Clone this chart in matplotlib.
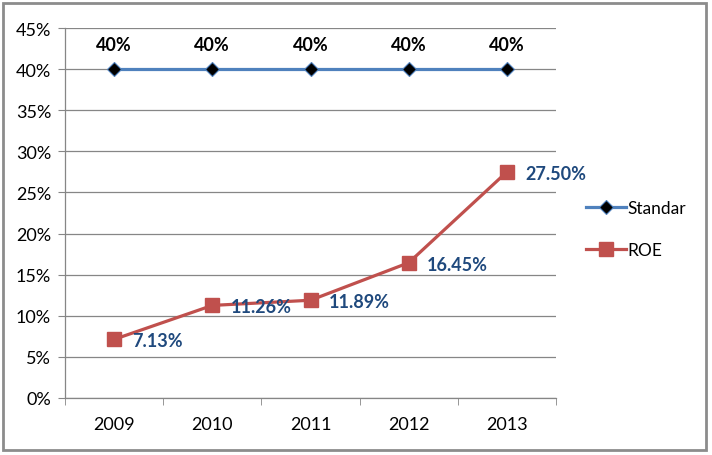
import matplotlib
matplotlib.use("Agg")
import matplotlib.pyplot as plt
from matplotlib.patches import Rectangle
from matplotlib.ticker import FuncFormatter, FixedLocator

years = ["2009", "2010", "2011", "2012", "2013"]
standar = [40, 40, 40, 40, 40]
roe = [7.13, 11.26, 11.89, 16.45, 27.50]
standar_labels = ["40%", "40%", "40%", "40%", "40%"]
roe_labels = ["7.13%", "11.26%", "11.89%", "16.45%", "27.50%"]

plt.rcParams['font.family'] = ['Lato', 'DejaVu Sans']

fig = plt.figure(figsize=(7.12, 4.56), dpi=100)
ax = fig.add_axes([65/712, 57/456, (556-65)/712, (399-29)/456])

x = list(range(len(years)))
l1, = ax.plot(x, standar, color='#4F81BD', lw=2.3, marker='D', ms=7,
              mfc='black', mec='#4F81BD', mew=0.8, label='Standar', zorder=3)
l2, = ax.plot(x, roe, color='#C0504D', lw=2.3, marker='s', ms=10.5,
              mfc='#C0504D', mec='#C0504D', label='ROE', zorder=3)

for xi, v, t in zip(x, standar, standar_labels):
    ax.annotate(t, (xi, v), xytext=(0, 18), textcoords='offset points',
                ha='center', va='center', fontsize=13, fontweight='bold', color='black')
for xi, v, t in zip(x, roe, roe_labels):
    ax.annotate(t, (xi, v), xytext=(13, -1), textcoords='offset points',
                ha='left', va='center', fontsize=13, fontweight='bold', color='#1F497D')

ax.set_ylim(0, 45)
ax.set_xlim(-0.5, 4.5)
ax.set_yticks(range(0, 46, 5))
ax.yaxis.set_major_formatter(FuncFormatter(lambda v, p: f"{int(v)}%"))
ax.set_xticks(x)
ax.set_xticklabels(years)
ax.xaxis.set_minor_locator(FixedLocator([i - 0.5 for i in range(len(years) + 1)]))
ax.tick_params(axis='x', which='major', length=0, pad=13, labelsize=13)
ax.tick_params(axis='x', which='minor', length=5, color='#868686', direction='out')
ax.tick_params(axis='y', length=5, color='#868686', labelsize=13, pad=5)
ax.grid(axis='y', color='#868686', lw=0.9)
ax.set_axisbelow(True)
for s in ['top', 'right']:
    ax.spines[s].set_visible(False)
for s in ['left', 'bottom']:
    ax.spines[s].set_color('#868686')
    ax.spines[s].set_linewidth(0.9)

leg = fig.legend(handles=[l1, l2], loc='center left', bbox_to_anchor=(570/712, 1 - 230/456),
                 frameon=False, fontsize=12.5, labelspacing=1.5, handlelength=2.3,
                 handletextpad=0.1)

fig.patches.append(Rectangle((3/712, 5/456), 703/712, 447/456, transform=fig.transFigure,
                             fill=False, ec='#8c8c8c', lw=2))

fig.savefig("out.png", dpi=100)
